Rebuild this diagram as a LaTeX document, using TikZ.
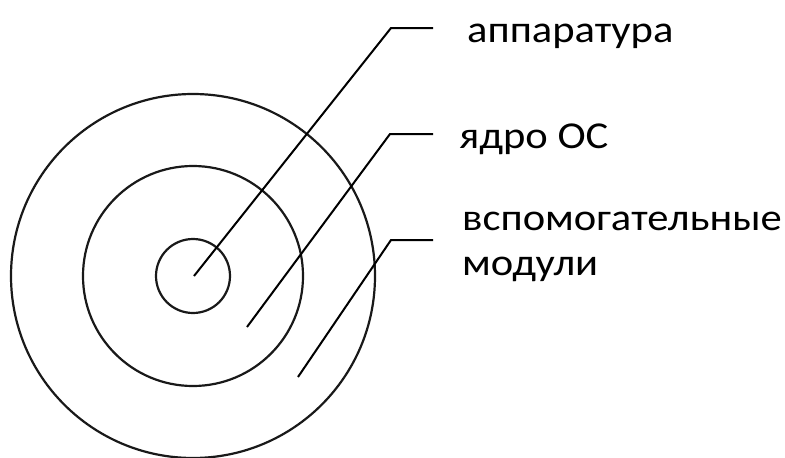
\documentclass[tikz,border=0pt]{standalone}
\usepackage{fontspec}
\setmainfont{Carlito}
\newfontfamily\labelfont[FakeStretch=1.12]{Carlito}
\begin{document}
\begin{tikzpicture}[x=1pt,y=-1pt,
  ring/.style={draw=black!90,line width=2.2pt,circle,minimum size=#1,inner sep=0pt},
  leader/.style={draw=black,line width=2pt},
  lbl/.style={anchor=base west,inner sep=0pt,font=\labelfont\fontsize{38}{45}\selectfont,text=black}]
  \useasboundingbox (0,0) rectangle (785,458);
  % concentric layers
  \node[ring=364pt] (outer) at (193,276) {};
  \node[ring=220pt] (middle) at (193,276) {};
  \node[ring=74pt] (inner) at (193,276) {};
  % leader points
  \coordinate (p1) at (194,276);
  \coordinate (c1) at (391,28);
  \coordinate (e1) at (433,28);
  \coordinate (p2) at (247,327);
  \coordinate (c2) at (390,134);
  \coordinate (e2) at (433,134);
  \coordinate (p3) at (298,377);
  \coordinate (c3) at (391,240);
  \coordinate (e3) at (433,240);
  \draw[leader] (p1) -- (c1) -- (e1);
  \draw[leader] (p2) -- (c2) -- (e2);
  \draw[leader] (p3) -- (c3) -- (e3);
  % labels
  \node[lbl] (hw) at (467,42) {аппаратура};
  \node[lbl] (kern) at (459,148) {ядро ОС};
  \node[lbl] (aux) at (462,230) {вспомогательные};
  \node[lbl] (aux2) at (462,275) {модули};
\end{tikzpicture}
\end{document}
